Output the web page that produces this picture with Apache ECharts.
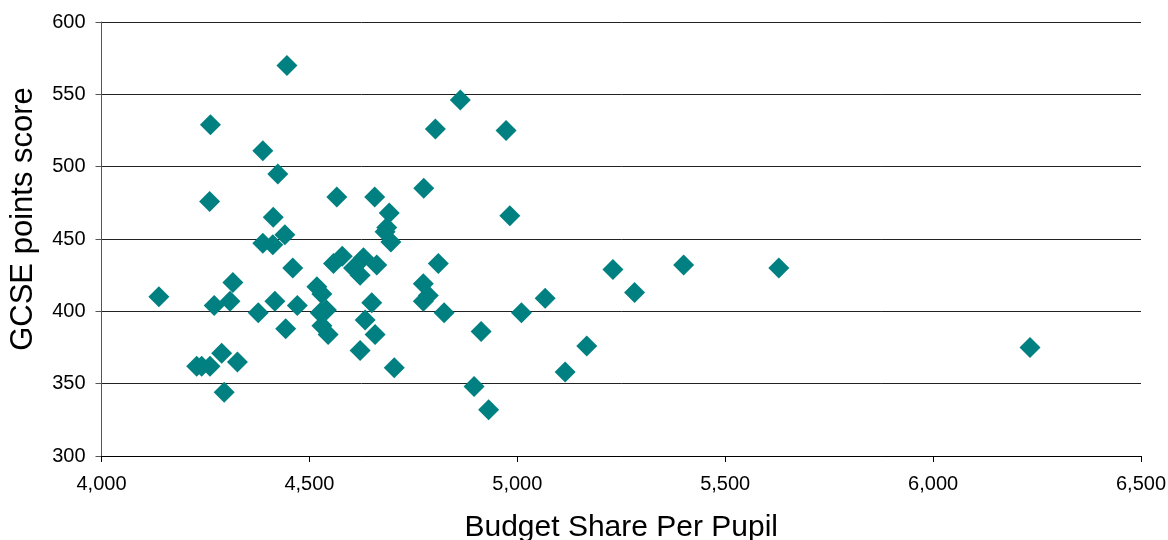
<!DOCTYPE html>
<html>
<head>
<meta charset="utf-8">
<script src="https://cdn.jsdelivr.net/npm/echarts@6/dist/echarts.min.js"></script>
<style>
html,body{margin:0;padding:0;background:#fff;}
#chart{width:1168px;height:540px;}
</style>
</head>
<body>
<div id="chart"></div>
<script>
// Budget share per pupil (x) and GCSE points score (y)
const budgetShare = [
  4138, 4229, 4241, 4261, 4289, 4327, 4295, 4316, 4271, 4309,
  4377, 4417, 4460, 4471, 4443, 4518, 4530, 4526, 4541, 4530,
  4545, 4388, 4412, 4441, 4446, 4262, 4388, 4424, 4260, 4413,
  4566, 4657, 4775, 4692, 4686, 4682, 4696, 4579, 4558, 4630,
  4662, 4622, 4606, 4650, 4634, 4658, 4622, 4704, 4810, 4774,
  4786, 4774, 4824, 4863, 4803, 4973, 4982, 4913, 5010, 5067,
  4896, 4931, 5230, 5282, 5400, 5629, 5167, 5115, 6233
];
const gcseScore = [
  410, 362, 362, 362, 371, 365, 344, 420, 404, 407,
  399, 407, 430, 404, 388, 417, 412, 399, 401, 390,
  384, 447, 446, 453, 570, 529, 511, 495, 476, 465,
  479, 479, 485, 468, 458, 455, 448, 438, 433, 437,
  432, 425, 430, 406, 394, 384, 373, 361, 433, 419,
  411, 407, 399, 546, 526, 525, 466, 386, 399, 409,
  348, 332, 429, 413, 432, 430, 376, 358, 375
];
const xTitle = 'Budget Share Per Pupil';
const yTitle = 'GCSE points score';

const points = budgetShare.map((b, i) => [b, gcseScore[i]]);

const chart = echarts.init(document.getElementById('chart'));
const fontFamily = '"Liberation Sans", Arial, sans-serif';
chart.setOption({
  animation: false,
  backgroundColor: '#ffffff',
  grid: { left: 101.5, right: 27, top: 22, bottom: 84, containLabel: false, outerBoundsMode: 'none' },
  xAxis: {
    type: 'value',
    min: 4000, max: 6500, interval: 500,
    name: xTitle,
    nameLocation: 'middle',
    nameGap: 57,
    nameTextStyle: { fontSize: 30, color: '#000', fontFamily: fontFamily },
    axisLine: { show: true, onZero: false, lineStyle: { color: '#000', width: 1 } },
    axisTick: { show: true, inside: false, length: 6, lineStyle: { color: '#000' } },
    axisLabel: {
      fontSize: 20, color: '#000', fontFamily: fontFamily, margin: 18,
      formatter: v => v.toString().replace(/\B(?=(\d{3})+(?!\d))/g, ',')
    },
    splitLine: { show: false }
  },
  yAxis: {
    type: 'value',
    min: 300, max: 600, interval: 50,
    name: yTitle,
    nameLocation: 'middle',
    nameRotate: 90,
    nameGap: 63,
    nameTextStyle: { fontSize: 31, color: '#000', fontFamily: fontFamily, padding: [0, 0, 0, 40] },
    axisLine: { show: true, onZero: false, lineStyle: { color: '#555', width: 1 } },
    axisTick: { show: true, inside: false, length: 6, lineStyle: { color: '#555' } },
    axisLabel: { fontSize: 20, color: '#000', fontFamily: fontFamily, margin: 16 },
    splitLine: { show: true, lineStyle: { color: '#222', width: 1 } }
  },
  series: [{
    type: 'scatter',
    data: points,
    symbol: 'diamond',
    symbolSize: 21,
    itemStyle: { color: '#008080', opacity: 1 }
  }]
});
</script>
</body>
</html>
